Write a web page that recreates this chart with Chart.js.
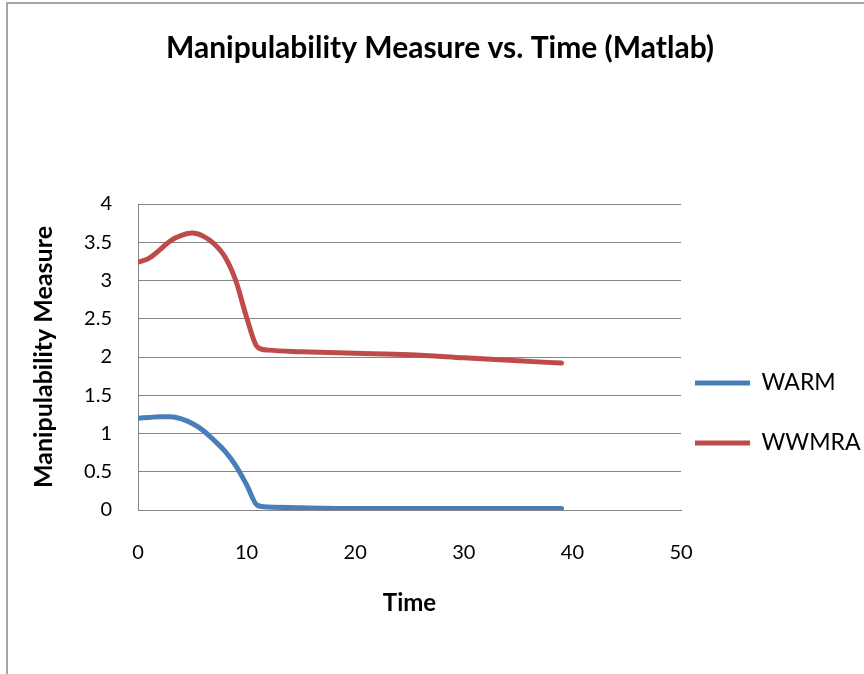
<!DOCTYPE html>
<html>
<head>
<meta charset="utf-8">
<title>Manipulability Measure vs. Time</title>
<script src="https://cdn.jsdelivr.net/npm/chart.js@4.4.1/dist/chart.umd.min.js"></script>
<style>
  html, body { margin: 0; padding: 0; background: #fff; overflow: hidden; }
  #marco {
    position: absolute; left: 6px; top: 2px; width: 900px; height: 700px;
    border-left: 2px solid #a6a6a6; border-top: 2px solid #a6a6a6;
    pointer-events: none;
  }
  #grafico { position: absolute; left: 0; top: 0; }
</style>
</head>
<body>
<canvas id="grafico" width="864" height="674"></canvas>
<div id="marco"></div>
<script>
/*==========================================================

DATOS DEL GRAFICO

==========================================================*/
const tiempos = [0, 1, 2, 3, 4, 5, 6, 7, 8, 9, 10, 11, 12, 15, 20, 25, 30, 35, 39];
const warm = [1.2, 1.21, 1.22, 1.22, 1.19, 1.13, 1.04, 0.91, 0.77, 0.58, 0.33, 0.06, 0.04, 0.03, 0.02, 0.02, 0.02, 0.02, 0.02];
const wwmra = [3.24, 3.29, 3.4, 3.52, 3.59, 3.62, 3.58, 3.48, 3.31, 3.0, 2.52, 2.13, 2.09, 2.07, 2.05, 2.03, 1.99, 1.95, 1.92];
const ticksX = [0, 10, 20, 30, 40, 50];
const ticksY = [0, 0.5, 1, 1.5, 2, 2.5, 3, 3.5, 4];

const fuente = "Lato, 'Open Sans', sans-serif";
const gris = "#868686";

function puntos(valores) {
  return tiempos.map((t, i) => ({ x: t, y: valores[i] }));
}

// mueve la leyenda a donde la pone Excel (solo el borde izquierdo, para no recortar el texto)
const moverLeyenda = {
  id: "moverLeyenda",
  afterLayout(chart) {
    const lg = chart.legend;
    lg.left -= 23;
    lg.top += 76;
    lg.bottom += 76;
  },
};

/*==========================================================

GRAFICO

==========================================================*/
let ctx = document.getElementById("grafico").getContext("2d");
new Chart(ctx, {
  type: "line",
  data: {
    datasets: [
      {
        label: "WARM",
        data: puntos(warm),
        borderColor: "#4a7ebb",
        backgroundColor: "#4a7ebb",
        borderWidth: 5,
        borderCapStyle: "round",
        pointRadius: 0,
        cubicInterpolationMode: "monotone",
      },
      {
        label: "WWMRA",
        data: puntos(wwmra),
        borderColor: "#be4b48",
        backgroundColor: "#be4b48",
        borderWidth: 5,
        borderCapStyle: "round",
        pointRadius: 0,
        cubicInterpolationMode: "monotone",
      },
    ],
  },
  options: {
    responsive: false,
    animation: false,
    layout: { padding: { left: 16, right: 0, top: 0, bottom: 0 } },
    plugins: {
      title: {
        display: true,
        text: "Manipulability Measure vs. Time (Matlab)",
        color: "#000",
        font: { family: fuente, size: 30, weight: "bold" },
        padding: { top: 30, bottom: 138 },
      },
      legend: {
        position: "right",
        maxWidth: 183,
        labels: {
          color: "#000",
          font: { family: fuente, size: 23 },
          usePointStyle: true,
          pointStyle: "line",
          pointStyleWidth: 55,
          padding: 37,
        },
      },
      tooltip: { enabled: false },
    },
    scales: {
      x: {
        type: "linear",
        min: 0,
        max: 50,
        afterBuildTicks: (s) => { s.ticks = ticksX.map((v) => ({ value: v })); },
        afterFit: (s) => { s.height = 164; },
        grid: { display: false, drawTicks: false },
        border: { display: true, color: gris },
        ticks: { color: "#000", padding: 31, font: { family: fuente, size: 20 } },
        title: {
          display: true,
          text: "Time",
          color: "#000",
          font: { family: fuente, size: 24, weight: "bold" },
          padding: { top: 0, bottom: 56 },
        },
      },
      y: {
        min: 0,
        max: 4,
        afterBuildTicks: (s) => { s.ticks = ticksY.map((v) => ({ value: v })); },
        afterFit: (s) => { s.width = 122; },
        grid: { color: gris, lineWidth: 1, drawTicks: false },
        border: { display: true, color: gris },
        ticks: {
          color: "#000",
          padding: 26,
          font: { family: fuente, size: 20 },
          callback: (v) => String(v),
        },
        title: {
          display: true,
          text: "Manipulability Measure",
          color: "#000",
          font: { family: fuente, size: 25, weight: "bold" },
          padding: { top: 13, bottom: 0 },
        },
      },
    },
  },
  plugins: [moverLeyenda],
});
</script>
</body>
</html>
